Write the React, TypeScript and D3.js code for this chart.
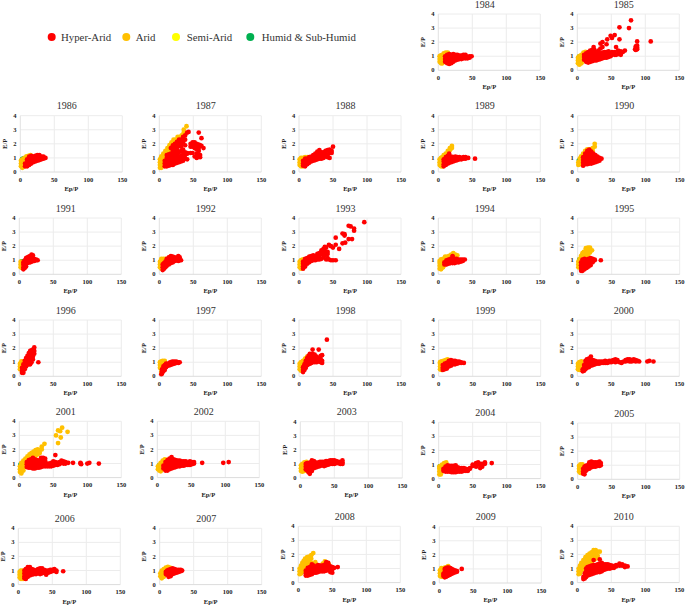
import React from "react";
import * as d3 from "d3";

type Col = [number, number[]];

const xTicks = [0, 50, 100, 150];
const yTicks = [0, 1, 2, 3, 4];
const legendLabels = ["Hyper-Arid", "Arid", "Semi-Arid", "Humid & Sub-Humid"];
const climateColors = ["#ff0000", "#ffc000", "#ffff00", "#00b050"];

const arid1984: Col[] = [[2,[.6,.8,1]],[4,[.5,.7,.9,1.05]],[6,[.5,.7,.9,1.1]],[8,[.6,.8,1,1.2]],[11,[.8,1,1.25]],[14,[1.25]]];
const hyper1984: Col[] = [[10,[.6,.8,1]],[13,[.5,.7,.9,1.1]],[16,[.45,.65,.85,1.05,1.15]],[19,[.5,.7,.9,1.1]],[22,[.6,.8,1,1.15]],[25,[.7,.9,1.1]],[28,[.75,.95,1.1]],[31,[.8,1,1.05]],[34,[.8,.95,1.05]],[37,[.85,1,1.1]],[40,[.85,1,1.1]],[43,[.85,.95]],[46,[.9,1]],[49,[1]]];
const arid1985: Col[] = [[1,[.5,.7,.9]],[3,[.4,.6,.8,1]],[6,[.5,.7,.9,1.1]],[9,[.7,.9,1.1,1.25]],[12,[.9,1.1,1.3]]];
const hyper1985: Col[] = [[10,[.75,.95,1.1]],[13,[.6,.8,1,1.2]],[16,[.55,.75,.95,1.15,1.3]],[19,[.6,.8,1,1.2,1.4]],[22,[.65,.85,1.05,1.25,1.45]],[24,[1.65]],[25,[.7,.9,1.1,1.3,1.45]],[28,[.7,.9,1.1,1.3]],[31,[.75,.95,1.15,1.4]],[34,[.8,1,1.2,1.55,1.9]],[37,[.85,1.05,1.25,1.65,2]],[40,[.9,1.1,1.3]],[43,[.9,1.05,1.3,1.85]],[44,[2.2]],[46,[.95,1.15,1.35]],[49,[1,1.2,2.45]],[51,[1.1,1.3,2.3]],[55,[1.1,1.3,2.5]],[57,[1.65,1.1]],[60,[1.15,1.4]],[62,[3.05,2.2]],[64,[1.1,1.35]],[67,[1.3]],[70,[1.4]],[76,[3]],[79,[3.55]],[85,[1.5]],[86,[1.7,1.45]],[88,[1.6,1.75,2.05,1.5]],[108,[2.05]]];
const arid1986: Col[] = [[1,[.4,.6,.8]],[3,[.3,.5,.7,.9]],[6,[.4,.6,.8,1]],[9,[.7,.9,1.1]],[12,[.95,1.15]],[15,[1.2]]];
const hyper1986: Col[] = [[7,[.4,.6]],[10,[.4,.6,.8,.9]],[13,[.5,.7,.9,1.1]],[16,[.6,.8,1,1.15]],[19,[.7,.9,1.1]],[22,[.75,.95,1.15]],[25,[.8,1,1.2]],[28,[.85,1,1.2]],[31,[.9,1.1]],[34,[.95,1.1]],[37,[1]]];
const arid1987: Col[] = [[1,[.3,.5,.7,.9]],[3,[.3,.5,.7,.9,1.1]],[6,[.5,.7,.9,1.1,1.3]],[9,[.9,1.1,1.3,1.5]],[12,[1.1,1.3,1.5,1.7]],[15,[1.3,1.5,1.7,1.9]],[18,[1.5,1.7,1.9,2.1]],[21,[1.7,1.9,2.1,2.3]],[24,[1.9,2.1,2.3]],[27,[2.1,2.3,2.5]],[30,[2.3,2.5]],[33,[2.4,2.6]],[36,[2.8,3]],[40,[3.25]]];
const hyper1987: Col[] = [[8,[.4,.6,.8]],[11,[.4,.6,.8,1,1.2]],[14,[.45,.65,.85,1.05,1.25]],[17,[.5,.7,.9,1.1,1.3,1.7]],[20,[.5,.7,.9,1.1,1.3,1.5,1.7,1.9]],[23,[.6,.8,1,1.2,1.4,1.6,1.8,2]],[26,[.65,.85,1.05,1.25,1.55,1.75,1.95,2.15]],[29,[.7,.9,1.1,1.4,1.9,2.1,2.3]],[32,[.75,.95,1.15,1.5,1.8,2,2.3]],[35,[.8,1,1.2,1.4,1.6,2.1,2.5]],[38,[.95,1.2,1.4,1.9,2.3,2.6]],[41,[.9,1.35,1.3,2.8]],[43,[2.85]],[46,[1.35,1.8,2]],[49,[1.35,1.8,2,2.1]],[52,[1.1,1.7,1.9,2.1]],[55,[1,1.3,1.6,1.8,2]],[58,[1.1,1.5,1.7,1.95,2.8]],[60,[1.05,1.2,1.9]],[62,[1.85,2.4]],[65,[1.7]]];
const arid1988: Col[] = [[1,[.5,.7,.9]],[3,[.4,.6,.8,1]],[6,[.4,.6,.8,1]],[9,[.6,.8,1.05]],[12,[1.05]]];
const hyper1988: Col[] = [[6,[.45,.6,.8]],[9,[.4,.6,.8,.95]],[12,[.55,.75,.95]],[15,[.65,.85,1.05]],[18,[.75,.95,1.1]],[21,[.8,1,1.2]],[24,[.85,1.05,1.3]],[27,[.9,1.1,1.35,1.45]],[30,[.95,1.15,1.35,1.55]],[33,[.95,1.15,1.4]],[36,[1,1.2,1.4]],[39,[1.1,1.3,1.5]],[42,[1.2,1.55,1.05]],[45,[1,1.35,1.6,1.4]],[48,[1.35,1.5]],[50,[1.8]]];
const arid1989: Col[] = [[2,[.5,.7,.9]],[4,[.4,.6,.8,1]],[6,[.4,.6,.8,1.05]],[8,[.6,.8,1.05,1.2]],[11,[1.1,1.3]],[14,[1.3,1.5]],[17,[1.55,1.7]],[20,[1.7,1.85]]];
const hyper1989: Col[] = [[8,[.4,.55,.75,.9]],[11,[.5,.7,.9,1.05]],[14,[.6,.8,1,1.15]],[16,[1.3,.65,.85,1.05]],[19,[.7,.9,1.1]],[22,[.75,.9,1.05]],[25,[.8,.95,1.1]],[28,[.85,1,1.05]],[31,[.9,1,1.05]],[34,[.9,1]],[37,[.95,1.05]],[40,[.95,1.05]],[44,[1]],[54,[.95]]];
const arid1990: Col[] = [[1,[.5,.7]],[3,[.55,.75,.95]],[5,[.7,.9,1.1]],[8,[.9,1.1,1.3]],[11,[1.1,1.3,1.5]],[14,[1.3,1.5,1.6]],[18,[1.4,1.6]],[22,[1.5,1.7]],[25,[1.8,2]]];
const hyper1990: Col[] = [[8,[.45,.65,.85,1.05]],[11,[.55,.75,.95,1.15,1.3]],[14,[.55,.75,.95,1.15,1.35,1.5]],[17,[.6,.8,1,1.2,1.4,1.6]],[20,[.6,.8,1,1.2,1.45]],[23,[.65,.85,1.05,1.3]],[26,[.7,.9,1.1,1.2]],[29,[.75,.95,1.1]],[32,[.8,1]],[35,[.95]]];
const arid1991: Col[] = [[2,[.5,.7,.9]],[4,[.45,.65,.85]],[7,[.5,.7]]];
const hyper1991: Col[] = [[6,[.35,.5,.7,.85]],[8,[.45,.65,.85,1]],[10,[.55,.75,.95,1.15]],[12,[.8,1,1.2]],[14,[.85,1.05,1.25]],[16,[.85,1.05,1.3]],[18,[.9,1.1,1.4]],[20,[.95,1.15,1.35]],[22,[.95,1.1]],[25,[1,1.05]],[27,[1]]];
const arid1992: Col[] = [[1,[.5,.7,.9]],[3,[.4,.6,.8,1,1.1]],[6,[.5,.7,.9,1.1]],[9,[.9,1.1]]];
const hyper1992: Col[] = [[5,[.3,.5,.7]],[7,[.4,.6,.8]],[9,[.5,.7,.9]],[11,[.6,.8,1,1.1]],[14,[.7,.9,1.1,1.2]],[17,[.8,1,1.2,1.3]],[20,[.85,1.05,1.25]],[23,[.95,1.1,1.2]],[26,[1,1.1]],[28,[.95,1.3,1.15]],[30,[1,1.2]],[32,[1]]];
const arid1993: Col[] = [[1,[.5,.7,.9]],[3,[.4,.6,.8,1]],[6,[.5,.7,.9,1.05]]];
const hyper1993: Col[] = [[6,[.4,.55,.75,.9]],[9,[.55,.75,.95,1.1]],[12,[.75,.95,1.15]],[15,[.85,1.05,1.25]],[18,[.95,1.15,1.3]],[21,[1,1.2,1.35]],[24,[1,1.15,1.3]],[27,[1.05,1.2,1.45]],[30,[1.05,1.3,1.5]],[33,[1.1,1.45,1.7]],[36,[1.2,1.5,1.8]],[38,[1.35,1.65,1.95]],[40,[1.05,1.5,1.9]],[42,[1.6,1.15,1.45]],[44,[1.05,2.1]],[47,[1,2]],[50,[1,1.9]],[54,[1,2.6,2.1]],[59,[1.8]],[64,[2.2,2.9]],[67,[2.85,2.75]],[68,[2.25]],[73,[2.5,3.45]],[76,[3.4]],[78,[2.5]],[81,[3.1,3.25]],[96,[3.7]]];
const arid1994: Col[] = [[2,[.4,.6,.8,.95]],[4,[.35,.5,.7,.9,1.05]],[7,[.5,.7,.9,1.1]],[10,[.7,.9,1.15,1.25]],[13,[1.05,1.25]],[16,[1.1,1.3]],[19,[1.2,1.4]],[22,[1.3,1.5]],[25,[1.3,1.4]],[28,[1.35]]];
const hyper1994: Col[] = [[9,[.7,.85]],[12,[.7,.9,1]],[15,[.75,.95,1.05]],[18,[.8,1,1.1]],[21,[.8,1,1.2,1.3]],[24,[.8,1,1.1]],[27,[.85,1,1.1]],[30,[.85,1,1.05]],[33,[.9,1.05]],[36,[.95,1.05]],[39,[1.05]]];
const arid1995: Col[] = [[1,[.5,.7,.9]],[3,[.5,.7,.9,1.1]],[5,[.9,1.1,1.3]],[7,[1.1,1.3,1.5]],[9,[1.15,1.35,1.6]],[12,[1.2,1.4,1.7,1.85]],[15,[1.35,1.55,1.75,1.9]],[18,[1.55,1.75,1.9]],[21,[1.7]]];
const hyper1995: Col[] = [[5,[.25,.45,.65,.85]],[7,[.25,.45,.65,.85,1.05]],[10,[.35,.55,.75,.95,1.1]],[13,[.45,.65,.85,1.05]],[16,[.55,.75,.95,1.1]],[19,[.65,.85,1.05,1.15]],[22,[.85,1,1.1]],[25,[1,1.05]],[34,[1]]];
const arid1996: Col[] = [[1,[.5,.7,.9]],[3,[.5,.7,.9,1.05]],[6,[.7,.9,1.05]],[9,[1,1.1]]];
const hyper1996: Col[] = [[4,[.25,.4,.6]],[6,[.25,.45,.65,.85]],[8,[.5,.7,.9,1.1]],[10,[.7,.9,1.1,1.3]],[12,[.85,1.05,1.25,1.45]],[14,[.85,1.05,1.25,1.45,1.65]],[16,[.85,1.05,1.25,1.45,1.65,1.8]],[18,[1,1.2,1.4,1.6,1.85]],[20,[1.2,1.4,1.6,1.9]],[22,[1.6,1.8,2.05]],[28,[1]]];
const arid1997: Col[] = [[1,[.6,.8,1]],[3,[.3,.5,.7,.9,1.05]],[5,[.5,.7,.9,1.1]],[8,[.9,1.1]]];
const hyper1997: Col[] = [[3,[.15]],[4,[.2,.35,.5]],[6,[.35,.5,.7]],[8,[.45,.65,.8]],[10,[.65,.8,.9]],[13,[.75,.9]],[16,[.8,.95,1]],[19,[.85,1,1.05]],[22,[.9,1,1.05]],[25,[.95,1.05]],[28,[.95,1]],[30,[1]]];
const arid1998: Col[] = [[1,[.5,.7,.9]],[3,[.4,.6,.8,1]],[6,[.5,.7,.9,1.1]],[9,[.9,1.1,1.25]],[12,[1.2,1.4]]];
const hyper1998: Col[] = [[6,[.3,.45,.65]],[8,[.45,.65,.85]],[10,[.6,.8,1,1.1]],[12,[.8,1,1.2,1.3]],[14,[.85,1.05,1.25,1.45]],[16,[.9,1.1,1.3,1.5,1.6]],[18,[.95,1.15,1.35,1.55]],[20,[1,1.2,1.4,1.6,1.9]],[23,[1,1.2,1.4,1.55]],[26,[1,1.25,1.4]],[29,[1.05,1.3,1.9]],[32,[1,1.2,1.45]],[34,[.95,1.1,1.5]],[41,[2.6]]];
const arid1999: Col[] = [[2,[.5,.7,.9,1]],[4,[.45,.65,.85,1.05]],[7,[.5,.7,.9,1.1]],[10,[.95,1.15]],[13,[1.1,1.2]]];
const hyper1999: Col[] = [[6,[.45,.6,.8]],[9,[.5,.7,.9]],[12,[.55,.75,.95]],[15,[.7,.85,1,1.1]],[18,[.75,.9,1.05,1.15]],[21,[.85,1,1.1]],[24,[.85,1,1.1]],[27,[.9,1,1.05]],[30,[.95,1.05]],[33,[.95,1]],[37,[.95]]];
const arid2000: Col[] = [[1,[.5,.7,.9]],[3,[.45,.65,.85,1]],[6,[.45,.65,.85,1.05]],[8,[.6,.8]]];
const hyper2000: Col[] = [[8,[.35,.5]],[10,[.4,.6,.8]],[12,[.5,.7,.9,1.1]],[14,[.6,.8,1,1.2]],[17,[.65,.85,1.05,1.25]],[20,[.75,.95,1.15,1.4]],[23,[.8,1,1.15]],[26,[.85,1,1.1]],[29,[.9,1.05]],[32,[.9,1.05]],[35,[.95,1.05]],[38,[.95,1.05]],[41,[.95,1.1]],[44,[.95,1.05]],[47,[1,1.1]],[50,[1,1.1]],[53,[1.05,1.15]],[56,[1,1.2]],[59,[1.05,1.15]],[62,[1]],[65,[.95,1]],[68,[1.05]],[71,[1.05,1.15]],[74,[1.1,1.2]],[77,[1.05,1.2]],[80,[1.05,1.15]],[83,[1.1,1.2]],[86,[1.05,1.15]],[89,[1.1]],[91,[1.05]],[103,[1.05]],[106,[1.1]],[112,[1.05]]];
const arid2001: Col[] = [[1,[.4,.6,.8]],[3,[.3,.5,.7,.9,1.05]],[6,[.5,.7,.9,1.1,1.2]],[9,[.8,1,1.2,1.35]],[12,[1.1,1.3,1.5]],[15,[1.25,1.45,1.65]],[18,[1.4,1.6,1.75]],[21,[1.45,1.65,1.85]],[24,[1.55,1.75,1.95]],[27,[1.65,1.85,2]],[30,[1.75,1.95]],[33,[2,2.2]],[37,[2.4]],[54,[3]],[57,[2.45,3.35]],[60,[3.3]],[61,[2.85]],[63,[3.55]],[71,[3.25]]];
const hyper2001: Col[] = [[11,[.75,.95,1.1]],[14,[.7,.9,1.1,1.25]],[17,[.7,.9,1.1,1.3]],[20,[.65,.85,1.05,1.25,1.4]],[23,[.65,.85,1.05,1.3]],[26,[.7,.9,1.1,1.25]],[29,[.7,.9,1.1,1.2]],[32,[.75,.95,1.15,1.4]],[35,[.8,1,1.2,1.4]],[38,[.8,1,1.2,1.35]],[41,[.8,1]],[44,[.8,1]],[47,[.8,.95,1.05]],[50,[.85,1,1.15]],[53,[.9,1.1,1.6]],[56,[.9,1.05]],[59,[.95,1.1]],[62,[1.05,1.2]],[65,[1,1.15]],[68,[1,1.1]],[72,[1.05]],[79,[1.05]],[90,[1.05,1]],[91,[.95]],[100,[1]],[103,[1.05]],[117,[1]]];
const arid2002: Col[] = [[1,[.6,.8]],[3,[.5,.7,.9]],[5,[.45,.65,.85,1.05]],[8,[.6,.8,1,1.2]],[11,[1,1.2,1.3]],[14,[1.25]]];
const hyper2002: Col[] = [[9,[.65,.85]],[12,[.5,.7,.9,1.1]],[15,[.5,.7,.9,1.1,1.25]],[18,[.6,.8,1,1.2,1.35]],[21,[.65,.85,1.05,1.25,1.45]],[24,[.7,.9,1.1,1.3]],[27,[.75,.95,1.15,1.25]],[30,[.8,1,1.2]],[33,[.8,1,1.2]],[36,[.85,1,1.15]],[39,[.85,1,1.15]],[42,[.9,1.05,1.15]],[45,[.9,1.05]],[48,[.9,1.05,1.15]],[51,[.95,1.1]],[54,[1,1.1]],[66,[1.05]],[97,[1.05]],[105,[1.1]]];
const arid2003: Col[] = [[1,[.5,.7,.9]],[3,[.45,.65,.85,1]],[6,[.5,.7,.9,1.1]],[9,[.8,1.15]]];
const hyper2003: Col[] = [[8,[.6,.8,1]],[10,[.55,.75,.95,1.05]],[12,[.4,.6,.8,1]],[14,[.3,.5,.7,.9,1.1]],[17,[.5,.7,.9,1.1,1.25]],[20,[.7,.9,1.1,1.2]],[23,[.75,.95,1.1]],[26,[.8,.95,1.1]],[29,[.85,1,1.15]],[32,[.9,1.05,1.15]],[35,[.85,1,1.15]],[38,[.9,1.05,1.2]],[41,[.95,1.1,1.2]],[44,[1,1.15,1.25]],[47,[1,1.15,1.25]],[50,[1,1.15,1.25]],[53,[1.05,1.2]],[56,[1.05,1.15]],[59,[1,1.15]],[62,[1.1,1.25,1]]];
const arid2004: Col[] = [[1,[.3,.5,.7,.85]],[3,[.3,.5,.7,.9]],[5,[.5,.7,.9,1]],[8,[.65,.85,1,1.1]],[11,[.8,1,1.15]]];
const hyper2004: Col[] = [[7,[.55,.7]],[10,[.5,.7,.85]],[13,[.5,.65,.8,.95]],[16,[.5,.65,.8,.9]],[19,[.45,.6,.75,.9]],[22,[.45,.6,.75,.9]],[25,[.45,.6,.75,.95]],[28,[.5,.65,.8]],[31,[.5,.65,.75]],[34,[.5,.65,.75]],[37,[.55,.65,.75]],[40,[.55,.7]],[43,[.55,.65]],[46,[.7,.75]],[50,[.9,1]],[55,[.85,1.1]],[58,[1,1.15]],[61,[.75,1.05]],[64,[.85,1.05]],[68,[1.05,1.15]],[78,[1.1]]];
const arid2005: Col[] = [[2,[.55,.75,.95]],[4,[.45,.65,.85,1.05]],[7,[.5,.7,.9,1.05]]];
const hyper2005: Col[] = [[8,[.4,.55,.75]],[10,[.35,.55,.75,.9]],[12,[.6,.8,.95]],[14,[.7,.85,1]],[17,[.75,.9,1.1,1.2]],[20,[.85,1,1.15,1.25]],[23,[.9,1.05,1.2]],[26,[.9,1.05,1.2]],[29,[.95,1.1,1.2]],[32,[.95,1.1,1.25]],[34,[1,1.15]]];
const arid2006: Col[] = [[2,[.5,.7,.9]],[4,[.4,.6,.8,1]],[7,[.4,.6,.8,1]],[9,[.9]]];
const hyper2006: Col[] = [[9,[.45,.6,.8,1]],[11,[.4,.6,.8,1,1.1]],[14,[.55,.75,.95,1.15,1.25]],[17,[.65,.85,1.05,1.25]],[20,[.7,.9,1.1]],[23,[.75,.95,1.05]],[26,[.75,.9,1]],[29,[.8,1,1.1]],[32,[.75,.95,1.15]],[35,[.8,1,1.15]],[38,[.85,.95,1.05]],[41,[.7,.85,1]],[44,[.85,1]],[47,[.9,1,1.05]],[50,[.95,1.05]],[53,[1,1.1]],[56,[.9,1]],[66,[.95]]];
const arid2007: Col[] = [[1,[.6,.8]],[3,[.45,.65,.85,1]],[6,[.55,.75,.95,1.1]],[9,[.8,1,1.2]],[12,[.95,1.15,1.25]],[15,[1.1,1.2]],[18,[1.1]]];
const hyper2007: Col[] = [[9,[.75,.9]],[11,[.7,.9,1]],[13,[.55,.75,.95,1.05]],[16,[.6,.8,1,1.1]],[19,[.75,.9,1.05,1.15]],[22,[.8,.95,1.1]],[25,[.85,1,1.05]],[28,[.9,1,1.05]],[31,[.95,1.05]],[33,[1]]];
const arid2008: Col[] = [[2,[.6,.8,1]],[4,[.65,.85,1.05,1.2]],[6,[.8,1,1.2,1.4]],[8,[.9,1.1,1.3,1.55]],[10,[1.1,1.3,1.5,1.7]],[13,[1.2,1.4,1.6,1.8]],[16,[1.2,1.4,1.6,1.85]],[19,[1.2,1.4,1.7,1.95]],[22,[1.3,2.1]],[25,[1.25,1.45]],[36,[1.35]],[39,[1.5]],[45,[1.3]]];
const hyper2008: Col[] = [[11,[.5,.65,.85]],[14,[.5,.7,.9,1.05]],[17,[.55,.75,.95,1.1]],[20,[.6,.8,1,1.3]],[23,[.7,.85,1.05,1.2]],[26,[.7,.9,1.05,1.1]],[29,[.75,.95,1.15,1.25]],[32,[.8,1,1.2]],[35,[.8,1,1.2]],[38,[.8,1,1.25]],[41,[.85,1.05,1.25,1.45]],[44,[.9,1.1,1.3,1.4]],[47,[.75,.95,1.15]],[50,[.7,.95,1.1]],[53,[1.05]],[58,[1.1]]];
const arid2009: Col[] = [[1,[.5,.7,.9]],[3,[.45,.65,.85,1.05]],[6,[.45,.65,.85,1.05]],[9,[1,1.1]],[13,[1.2]]];
const hyper2009: Col[] = [[6,[.5,.65]],[8,[.4,.6,.8,1]],[10,[.45,.65,.85,1.05]],[12,[.5,.7,.9,1.1]],[14,[.55,.75,.95,1.1]],[16,[.6,.8,.95,1.05]],[18,[.65,.85,1]],[20,[.7,.85,.95]],[23,[.75,.9]],[26,[.8,.85]],[33,[1]]];
const arid2010: Col[] = [[2,[.6,.8,1]],[4,[.65,.85,1.05,1.2]],[6,[.85,1.05,1.25,1.4]],[9,[1,1.2,1.4,1.6]],[12,[1.15,1.35,1.55,1.8]],[15,[1.3,1.5,1.7,1.95]],[18,[1.4,1.6,1.8,2.05]],[21,[1.5,1.7,1.9,2.15]],[24,[1.6,1.8,2,2.3]],[27,[1.7,1.9,2.1,2.3]],[30,[1.9,2.2]],[33,[2.2]]];
const hyper2010: Col[] = [[9,[.25,.4]],[11,[.3,.45,.65]],[13,[.4,.6,.8,1]],[15,[.5,.7,.9,1.1]],[18,[.55,.75,.95,1.15]],[21,[.6,.8,1,1.2]],[24,[.65,.85,1.05,1.25,1.6]],[27,[.7,.9,1.1,1.25]],[30,[.75,.95,1.15,1.3]],[33,[.75,.95,1.15,1.35,1.65]],[36,[.8,1,1.2,1.4]],[39,[.9,1.1,1.3]],[42,[.95,1.15,1.3]],[45,[1,1.15,1.3]],[48,[1,1.15,1.25]],[51,[1.05,1.2]],[54,[1.05,1.15]],[57,[1.15,1.25]],[62,[1.2,1.35]],[66,[1.2,1.3]],[70,[1.1,1.2]],[74,[1.15]]];

// a few humid points peeking out from under the arid cloud
const humidPoints: Record<number, Col[]> = {
  1985: [[2, [1]]], 1986: [[2, [.95]], [4, [1]]], 1987: [[2, [1]]], 1991: [[3, [.95]], [5, [.95]]],
  1995: [[2, [1.1]]], 2001: [[1, [.95]]], 2002: [[2, [.9]]], 2004: [[1, [.9]]], 2006: [[3, [1]]], 1990: [[1, [.85]]],
};

const hyperByYear: Record<number, Col[]> = {1984:hyper1984,1985:hyper1985,1986:hyper1986,1987:hyper1987,1988:hyper1988,1989:hyper1989,1990:hyper1990,1991:hyper1991,1992:hyper1992,1993:hyper1993,1994:hyper1994,1995:hyper1995,1996:hyper1996,1997:hyper1997,1998:hyper1998,1999:hyper1999,2000:hyper2000,2001:hyper2001,2002:hyper2002,2003:hyper2003,2004:hyper2004,2005:hyper2005,2006:hyper2006,2007:hyper2007,2008:hyper2008,2009:hyper2009,2010:hyper2010};
const aridByYear: Record<number, Col[]> = {1984:arid1984,1985:arid1985,1986:arid1986,1987:arid1987,1988:arid1988,1989:arid1989,1990:arid1990,1991:arid1991,1992:arid1992,1993:arid1993,1994:arid1994,1995:arid1995,1996:arid1996,1997:arid1997,1998:arid1998,1999:arid1999,2000:arid2000,2001:arid2001,2002:arid2002,2003:arid2003,2004:arid2004,2005:arid2005,2006:arid2006,2007:arid2007,2008:arid2008,2009:arid2009,2010:arid2010};

// layout: [year, plot left, plot top]
const frames: [number, number, number][] = [
  [1984,438.3,14],[1985,577.3,14],
  [1986,20.3,115.7],[1987,159.3,115.7],[1988,299,115.7],[1989,438.3,115.7],[1990,577.7,115.7],
  [1991,19.3,218],[1992,159.3,218],[1993,299,218],[1994,438.3,218],[1995,577.7,218],
  [1996,19.3,320],[1997,159.3,320],[1998,299,320],[1999,438.7,320],[2000,577.3,320],
  [2001,19.3,421.3],[2002,157.3,421.3],[2003,300.3,421.7],[2004,438.7,422.3],[2005,577.7,423],
  [2006,18.3,528.3],[2007,159.7,528.3],[2008,298.3,526.3],[2009,439.3,526.7],[2010,577.3,526.3],
];
const plotW = 102;
const plotH = 56.3;
const legendCx = [51.7, 126.3, 176, 250.3];
const legendTx = [61, 135.7, 186.7, 261.7];

const flat = (cols: Col[] | undefined) => (cols ?? []).flatMap(([x, ys]) => ys.map((y) => [x, y] as [number, number]));
const SERIF = "'Liberation Serif', 'Times New Roman', serif";

function Panel({ year, left, top }: { year: number; left: number; top: number }) {
  const x = d3.scaleLinear().domain([0, 150]).range([left, left + plotW]);
  const y = d3.scaleLinear().domain([0, 4]).range([top + plotH, top]);
  const layers: [Col[] | undefined, string, number][] = [
    [humidPoints[year], climateColors[3], 1.9],
    [aridByYear[year], climateColors[1], 2.4],
    [hyperByYear[year], climateColors[0], 2.35],
  ];
  return (
    <g>
      {xTicks.slice(1).map((t) => (
        <line key={t} x1={x(t)} x2={x(t)} y1={y(4)} y2={y(0)} stroke="#ececec" strokeWidth={1} />
      ))}
      {yTicks.slice(1).map((t) => (
        <line key={t} x1={x(0)} x2={x(150)} y1={y(t)} y2={y(t)} stroke="#ececec" strokeWidth={1} />
      ))}
      <line x1={x(0)} x2={x(0)} y1={y(4)} y2={y(0)} stroke="#e2e2e2" strokeWidth={1} />
      <line x1={x(0)} x2={x(150)} y1={y(0)} y2={y(0)} stroke="#dcdcdc" strokeWidth={1} />
      {layers.map(([cols, color, r], i) => (
        <g key={i} fill={color}>
          {flat(cols).map(([px, py], j) => (
            <circle key={j} cx={x(px)} cy={y(py)} r={r} />
          ))}
        </g>
      ))}
      <text x={x(75) - 4.5} y={top - 6.5} textAnchor="middle" fontSize={10} fill="#333">{year}</text>
      <g fontSize={6.5} fontWeight="bold" fill="#222">
        {xTicks.map((t) => (
          <text key={t} x={x(t)} y={y(0) + 9.5} textAnchor="middle">{t}</text>
        ))}
        {yTicks.map((t) => (
          <text key={t} x={x(0) - 5.5} y={y(t) + 2.1} textAnchor="middle">{t}</text>
        ))}
        <text x={x(75)} y={y(0) + 19} textAnchor="middle">Ep/P</text>
        <text transform={`translate(${x(0) - 13.5},${y(2)}) rotate(-90)`} textAnchor="middle">E/P</text>
      </g>
    </g>
  );
}

export default function App() {
  return (
    <svg
      width={685}
      height={606}
      viewBox="0 0 685 606"
      style={{ position: "absolute", left: 0, top: 0, background: "#fff", fontFamily: SERIF }}
    >
      {legendLabels.map((label, i) => (
        <g key={label}>
          <circle cx={legendCx[i]} cy={37} r={4} fill={climateColors[i]} />
          <text x={legendTx[i]} y={40.5} fontSize={10.8} fill="#333">{label}</text>
        </g>
      ))}
      {frames.map(([year, left, top]) => (
        <Panel key={year} year={year} left={left} top={top} />
      ))}
    </svg>
  );
}
